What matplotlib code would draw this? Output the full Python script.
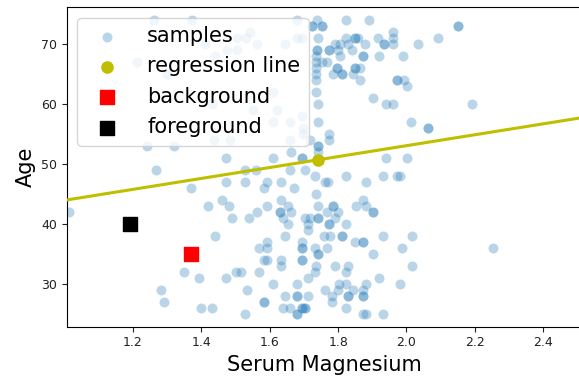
import matplotlib
matplotlib.use("Agg")
import matplotlib.pyplot as plt
import numpy as np

# ---- data ----
serum_mg = [
    # left region
    1.012, 1.212, 1.241, 1.262, 1.268, 1.282, 1.290, 1.299, 1.321, 1.350, 1.370, 1.372,
    1.392, 1.399, 1.411, 1.420, 1.431, 1.431, 1.436, 1.440, 1.441, 1.460, 1.473, 1.473,
    1.473, 1.475, 1.480, 1.485, 1.490, 1.502, 1.504, 1.504,
    # upper middle
    1.532, 1.542, 1.562, 1.552, 1.610, 1.620, 1.610, 1.645, 1.659, 1.659, 1.679, 1.681,
    1.693, 1.693, 1.698, 1.698, 1.718,
    1.739, 1.823, 1.891,
    1.723, 1.723, 1.752, 1.752,
    1.960,
    1.742, 1.823, 1.849, 1.849, 1.859, 1.917, 1.961,
    1.791, 1.805, 1.830, 1.878, 1.934, 1.934, 1.961,
    1.737, 1.737, 1.774, 1.774, 1.799, 1.840,
    1.735, 1.805, 1.872, 1.872, 1.920, 1.991,
    1.735, 1.752, 1.768,
    1.735, 1.796, 1.796, 1.849, 1.849, 1.864,
    1.735, 1.784, 1.810, 1.810, 1.844,
    1.735, 1.864, 1.971, 1.971, 1.993,
    2.002,
    1.735,
    1.903,
    1.742, 1.940, 1.961,
    1.742, 2.012,
    1.774, 1.774,
    1.742, 1.742,
    1.661, 1.742,
    1.610, 1.693, 1.693, 1.940, 2.002,
    # right region
    2.152, 2.152, 2.091, 2.035, 2.192, 2.064, 2.064, 1.981, 2.015, 1.986, 2.254, 2.015, 1.981,
    # lower middle
    1.527, 1.561, 1.659, 1.703,
    1.732, 1.823, 1.932, 1.973,
    1.527, 1.591, 1.632, 1.762, 1.771, 1.883,
    1.583, 1.671,
    1.735,
    1.632, 1.874,
    1.591, 1.654, 1.742, 1.784, 1.784, 1.852, 1.883,
    1.562, 1.630, 1.630, 1.661, 1.768, 1.801, 1.903, 1.903,
    1.540, 1.640, 1.703, 1.718, 1.742, 1.742, 1.791,
    1.654, 1.713, 1.774, 1.774, 1.823,
    1.713,
    1.645, 1.759, 1.776, 1.810, 1.810, 1.932,
    1.591, 1.693, 1.849, 1.872, 1.872,
    1.570, 1.591, 1.693, 1.693, 1.732, 1.768,
    1.742, 1.742, 1.903,
    1.583, 1.591, 1.632, 1.693, 1.693,
    1.632, 1.735, 1.791, 1.830,
    1.516, 1.570, 1.732, 1.823,
    1.713, 1.920,
    1.610, 1.681, 1.803, 1.823, 1.883,
    1.533, 1.762, 1.801, 1.844, 1.874,
    1.645, 1.681, 1.681, 1.713, 1.781, 1.830, 1.830, 1.872, 1.872,
    1.583, 1.583, 1.781,
    1.640, 1.659, 1.693, 1.693, 1.703, 1.703, 1.823,
    1.527, 1.681, 1.681, 1.872, 1.881, 1.932,
]
age = [
    # left region
    42, 67, 53, 74, 49, 29, 27, 65, 53, 32, 46, 74,
    31, 26, 70, 43, 60, 26, 54, 38, 68, 44, 51, 47,
    31, 69, 43, 54, 41, 32, 71, 69,
    # upper middle
    71, 72, 70, 59, 62, 59, 57, 70, 57, 54, 71, 74,
    71, 58, 56, 55, 54,
    74, 74, 74,
    73, 73, 73, 73,
    72,
    71, 71, 71, 71, 71, 71, 71,
    70, 70, 70, 70, 70, 70, 70,
    69, 69, 69, 69, 69, 69,
    68, 68, 68, 68, 68, 68,
    67, 67, 67,
    66, 66, 66, 66, 66, 66,
    65, 65, 65, 65, 65,
    64, 64, 64, 64, 64,
    63,
    62,
    61,
    60, 60, 60,
    57, 57,
    55, 54,
    53, 53,
    52, 52,
    51, 51, 51, 51, 51,
    # right region
    73, 73, 71, 70, 60, 56, 56, 48, 38, 36, 36, 33, 30,
    # lower middle
    49, 49, 49, 49,
    48, 48, 48, 48,
    47, 47, 47, 47, 47, 47,
    46, 46,
    45,
    44, 44,
    43, 43, 43, 43, 43, 43, 43,
    42, 42, 42, 42, 42, 42, 42, 42,
    41, 41, 41, 41, 41, 41, 41,
    40, 40, 40, 40, 40,
    39,
    38, 38, 38, 38, 38, 38,
    37, 37, 37, 37, 37,
    36, 36, 36, 36, 36, 36,
    35, 35, 35,
    34, 34, 34, 34, 34,
    33, 33, 33, 33,
    32, 32, 32, 32,
    31, 31,
    30, 30, 30, 30, 30,
    29, 29, 29, 29, 29,
    28, 28, 28, 28, 28, 28, 28, 28, 28,
    27, 27, 27,
    26, 26, 26, 26, 26, 26, 26,
    25, 25, 25, 25, 25, 25,
]

reg_slope = 9.1
reg_intercept = 34.9
reg_point_x = [1.74]
reg_point_y = [50.7]
background_x = [1.37]
background_y = [35]
foreground_x = [1.19]
foreground_y = [40]

x_limits = (1.007, 2.513)
y_limits = (22.93, 76.17)

# ---- figure ----
fig = plt.figure(figsize=(5.79, 3.81), dpi=100)
ax = fig.add_axes([0.1157, 0.1425, 0.8893, 0.8385])

ax.scatter(serum_mg, age, s=52, color="C0", alpha=0.3, linewidths=0, label="samples")

xs = np.array(x_limits)
ax.plot(xs, reg_intercept + reg_slope * xs, color="y", linewidth=2.2, zorder=3)
ax.scatter(reg_point_x, reg_point_y, s=65, color="y", zorder=4, label="regression line")
ax.scatter(background_x, background_y, s=115, marker="s", color="red", zorder=4, label="background")
ax.scatter(foreground_x, foreground_y, s=115, marker="s", color="black", zorder=4, label="foreground")

ax.set_xlim(*x_limits)
ax.set_ylim(*y_limits)
ax.set_xticks([1.2, 1.4, 1.6, 1.8, 2.0, 2.2, 2.4])
ax.set_yticks([30, 40, 50, 60, 70])
ax.tick_params(labelsize=9, colors="#222222")
ax.set_xlabel("Serum Magnesium", fontsize=15)
ax.set_ylabel("Age", fontsize=15)

ax.legend(loc="upper left", fontsize=15, scatterpoints=1, handletextpad=0.95)

fig.savefig("out.png", dpi=100)
